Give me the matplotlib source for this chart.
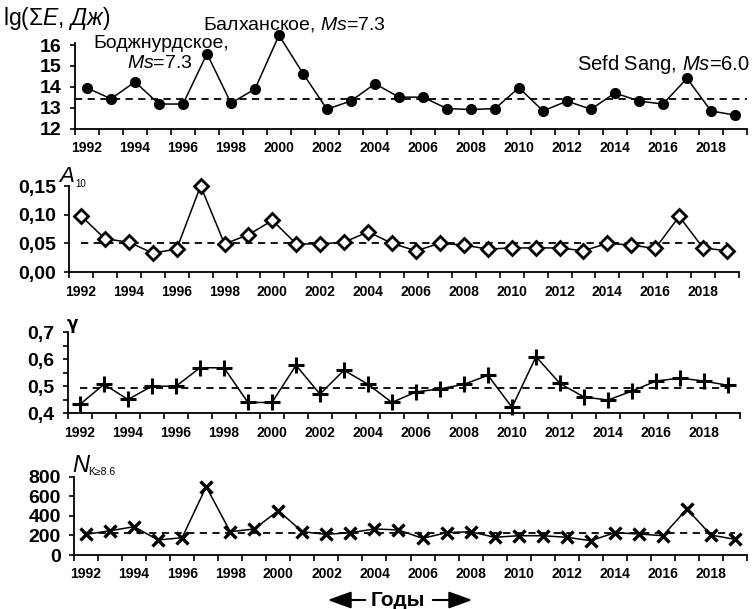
import numpy as np
import matplotlib
matplotlib.use("Agg")
import matplotlib.pyplot as plt
from matplotlib.patches import FancyArrowPatch
from matplotlib.ticker import FixedLocator, FuncFormatter, MultipleLocator

plt.rcParams['font.family'] = ['Liberation Sans', 'DejaVu Sans']
plt.rcParams['mathtext.fontset'] = 'custom'
plt.rcParams['mathtext.rm'] = 'Liberation Sans'
plt.rcParams['mathtext.it'] = 'Liberation Sans:italic'
plt.rcParams['mathtext.bf'] = 'Liberation Sans:bold'

years = list(range(1992, 2020))

# lg(sum E), J
lg_energy = [13.95, 13.43, 14.24, 13.18, 13.18, 15.59, 13.22, 13.90, 16.47, 14.64,
             12.93, 13.33, 14.15, 13.51, 13.51, 12.96, 12.92, 12.96, 13.96, 12.85,
             13.32, 12.93, 13.71, 13.32, 13.18, 14.41, 12.85, 12.65]
lg_energy_mean = 13.42

# A10
a10 = [0.098, 0.058, 0.052, 0.033, 0.040, 0.150, 0.049, 0.065, 0.090, 0.049,
       0.049, 0.052, 0.070, 0.050, 0.037, 0.050, 0.047, 0.040, 0.042, 0.042,
       0.042, 0.037, 0.050, 0.047, 0.041, 0.097, 0.042, 0.037]
a10_mean = 0.050

# gamma
gamma = [0.433, 0.507, 0.451, 0.500, 0.500, 0.568, 0.568, 0.440, 0.440, 0.577,
         0.471, 0.559, 0.507, 0.440, 0.479, 0.490, 0.507, 0.540, 0.422, 0.609,
         0.510, 0.460, 0.449, 0.482, 0.519, 0.530, 0.519, 0.503]
gamma_mean = 0.495

# number of events K>=8.6
n_events = [211, 248, 289, 153, 177, 698, 238, 266, 453, 238,
            211, 228, 266, 256, 170, 228, 238, 181, 197, 197,
            181, 146, 228, 215, 197, 470, 204, 160]
n_mean = 222

W, H = 753, 609
fig = plt.figure(figsize=(W / 100, H / 100), dpi=100)


def px_axes(x0, x1, y0, y1):
    return fig.add_axes([x0 / W, 1 - y1 / H, (x1 - x0) / W, (y1 - y0) / H])


def ftext(x, y, s, **kw):
    fig.text(x / W, 1 - y / H, s, **kw)


def style(ax, ylim, yticks, fmt, mean, line_from_edge=False):
    ax.set_xlim(1991.5, 2019.5)
    ax.set_ylim(*ylim)
    for sp in ['top', 'right']:
        ax.spines[sp].set_visible(False)
    for sp in ['left', 'bottom']:
        ax.spines[sp].set_linewidth(1.3)
    ax.xaxis.set_major_locator(FixedLocator(np.arange(1991.5, 2020, 1)))
    ax.xaxis.set_major_formatter(FuncFormatter(lambda v, p: ''))
    ax.xaxis.set_minor_locator(FixedLocator(range(1992, 2020, 2)))
    ax.xaxis.set_minor_formatter(FuncFormatter(lambda v, p: '%d' % v))
    ax.tick_params(axis='x', which='major', length=4.5, width=1.2, direction='out')
    ax.tick_params(axis='x', which='minor', length=0, pad=9, labelsize=10)
    for lab in ax.get_xticklabels(minor=True):
        lab.set_fontweight('bold')
    ax.set_yticks(yticks)
    ax.yaxis.set_major_formatter(FuncFormatter(fmt))
    ax.tick_params(axis='y', length=3.5, width=1.2, pad=6, labelsize=14)
    for lab in ax.get_yticklabels():
        lab.set_fontweight('bold')
    if line_from_edge:
        xs = [1991.5, 2019.5]
    else:
        xs = [years[0], years[-1]]
    ax.plot(xs, [mean, mean], color='black', lw=1.3, ls=(0, (4, 3)), zorder=1)
    ax.patch.set_alpha(0)


# panel 1
ax1 = px_axes(75, 747, 43, 128.7)
style(ax1, (12, 16.1), [12, 13, 14, 15, 16], lambda v, p: '%d' % v,
      lg_energy_mean, line_from_edge=True)
ax1.plot(years, lg_energy, color='black', lw=1.1, marker='o', ms=7,
         clip_on=False, zorder=3)

# panel 2
ax2 = px_axes(69, 739, 186, 272)
style(ax2, (0, 0.15), [0, 0.05, 0.10, 0.15],
      lambda v, p: ('%.2f' % v).replace('.', ','), a10_mean)
ax2.plot(years, a10, color='black', lw=1.1, marker='D', ms=7.5, mfc='white',
         mec='black', mew=2, clip_on=False, zorder=3)

# panel 3
ax3 = px_axes(68, 740, 332, 413.3)
style(ax3, (0.4, 0.7), [0.4, 0.5, 0.6, 0.7],
      lambda v, p: ('%.1f' % v).replace('.', ','), gamma_mean)
ax3.yaxis.set_minor_locator(MultipleLocator(0.05))
ax3.tick_params(axis='y', which='minor', length=3.5, width=1.2)
ax3.plot(years, gamma, color='black', lw=1.1, marker='+', ms=12, mew=2.2,
         clip_on=False, zorder=3)

# panel 4
ax4 = px_axes(74, 747, 476.7, 555)
style(ax4, (0, 800), [0, 200, 400, 600, 800], lambda v, p: '%d' % v, n_mean)
ax4.plot(years, n_events, color='black', lw=1.1, marker='x', ms=9, mew=2.4,
         clip_on=False, zorder=3)

# labels and annotations
ftext(3, 18, r'lg(Σ$\mathit{E}$, $\mathit{Дж}$)', fontsize=16.5, va='center')
ftext(93, 43, 'Боджнурдское,', fontsize=14, va='center')
ftext(127, 63, r'$\mathit{Ms}$=7.3', fontsize=14, va='center')
ftext(203, 25, r'Балханское, $\mathit{Ms}$=7.3', fontsize=14, va='center')
ftext(750, 65, r'Sefd Sang, $\mathit{Ms}$=6.0', fontsize=14.5, va='center', ha='right')

ftext(59, 177, 'A', fontsize=16, style='italic', va='center')
ftext(75, 184, '10', fontsize=7, va='center')
ftext(67, 324, 'γ', fontsize=12, fontweight='bold', va='center',
      family=['DejaVu Sans'])
ftext(72, 465, 'N', fontsize=17, style='italic', va='center')
ftext(88, 472, 'K≥8.6', fontsize=7.5, va='center')

ftext(398, 600, 'Годы', fontsize=15, fontweight='bold', va='center', ha='center')
for x_from, x_to in [(368, 325), (430, 475)]:
    fig.patches.append(FancyArrowPatch(
        (x_from / W, 1 - 600 / H), (x_to / W, 1 - 600 / H),
        transform=fig.transFigure, arrowstyle='-|>,head_length=1.1,head_width=0.4',
        mutation_scale=13, lw=1.5, color='black'))

fig.savefig('out.png', dpi=100)
